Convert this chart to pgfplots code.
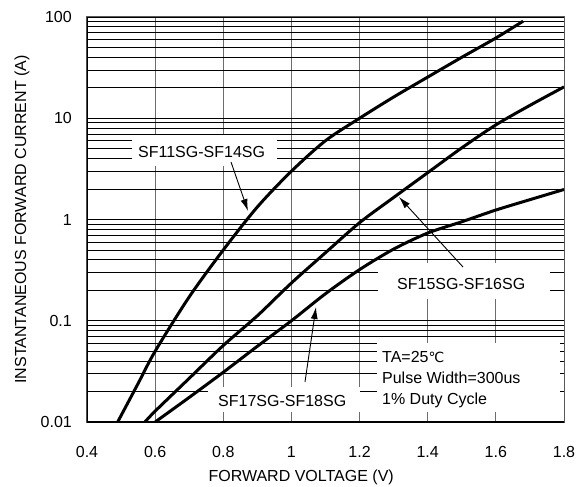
\documentclass[border=0pt]{standalone}
\usepackage{fontspec}
\setmainfont{Liberation Sans}
\newfontfamily\dejavu{DejaVu Sans}
\usepackage{pgfplots}
\pgfplotsset{compat=1.18}
\usetikzlibrary{arrows.meta}

% SF11SG-SF14SG
\pgfplotstableread{
x y
0.49 0.01
0.55 0.024
0.60 0.050
0.70 0.172
0.80 0.50
0.90 1.33
1.00 3.0
1.10 6.0
1.20 10.0
1.30 16.2
1.40 25.5
1.50 40
1.60 62
1.68 91
}\sfA

% SF15SG-SF16SG
\pgfplotstableread{
x y
0.57 0.01
0.60 0.0128
0.70 0.027
0.80 0.057
0.90 0.112
1.00 0.236
1.10 0.47
1.20 0.93
1.30 1.65
1.40 2.9
1.50 5.1
1.60 8.6
1.70 13.4
1.80 20.4
}\sfB

% SF17SG-SF18SG
\pgfplotstableread{
x y
0.60 0.01
0.70 0.0175
0.80 0.031
0.90 0.056
1.00 0.100
1.10 0.185
1.20 0.32
1.30 0.51
1.40 0.735
1.50 0.95
1.60 1.24
1.70 1.57
1.80 1.98
}\sfC

\begin{document}
\begin{tikzpicture}
\begin{axis}[
    scale only axis,
    width=477pt, height=405pt,
    ymode=log,
    xmin=0.4, xmax=1.8,
    ymin=0.01, ymax=100,
    xtick={0.4,0.6,...,1.8},
    xticklabels={0.4,0.6,0.8,1,1.2,1.4,1.6,1.8},
    ytick={0.01,0.1,1,10,100},
    yticklabels={0.01,0.1,1,10,100},
    font=\fontsize{16}{19}\selectfont,
    xlabel={FORWARD VOLTAGE (V)},
    ylabel={INSTANTANEOUS FORWARD CURRENT (A)},
    xlabel style={at={(axis description cs:0.449,-0.1457)}, anchor=base},
    ylabel style={at={(axis description cs:-0.1363,0.5)}, anchor=center},
    grid=both,
    major x grid style={line width=0.9pt, gray!85!black},
    major y grid style={line width=0.8pt, black},
    minor y grid style={line width=0.8pt, black},
    axis line style={line width=1pt, gray!70!black},
    major tick length=0pt,
    minor tick length=0pt,
    xticklabel style={anchor=base, yshift=-35pt},
    yticklabel style={anchor=east, inner sep=0pt, xshift=-15pt},
]
\addplot[black, line width=3pt, smooth, tension=0.5] table {\sfA};
\addplot[black, line width=3pt, smooth, tension=0.5] table {\sfB};
\addplot[black, line width=3pt, smooth, tension=0.5] table {\sfC};

\draw[black, line width=1.2pt] (rel axis cs:0,1) -- (rel axis cs:0,0) -- (rel axis cs:1,0);

% white label boxes
\fill[white] (axis description cs:0.0943,0.6321) rectangle (axis description cs:0.3983,0.7086);
\fill[white] (axis description cs:0.6101,0.3037) rectangle (axis description cs:0.9706,0.3926);
\fill[white] (axis description cs:0.2537,0.0247) rectangle (axis description cs:0.5723,0.0864);
\fill[white] (axis description cs:0.6080,0.0247) rectangle (axis description cs:0.9916,0.1951);

\node[anchor=base west, inner sep=0pt] at (axis description cs:0.1069,0.6543) {SF11SG-SF14SG};
\node[anchor=base west, inner sep=0pt] at (axis description cs:0.6499,0.3284) {SF15SG-SF16SG};
\node[anchor=base west, inner sep=0pt] at (axis description cs:0.2746,0.0395) {SF17SG-SF18SG};
\node[anchor=base west, inner sep=0pt] at (axis description cs:0.6184,0.1457) {TA=25{\dejavu\fontsize{14}{19}\selectfont ℃}};
\node[anchor=base west, inner sep=0pt] at (axis description cs:0.6184,0.0963) {Pulse Width=300us};
\node[anchor=base west, inner sep=0pt] at (axis description cs:0.6184,0.0420) {1\% Duty Cycle};

\draw[line width=0.9pt, -{Latex[length=12pt,width=7pt]}] (axis description cs:0.3019,0.6420) -- (axis description cs:0.3375,0.5210);
\draw[line width=0.9pt, -{Latex[length=12pt,width=7pt]}] (axis description cs:0.7883,0.3827) -- (axis description cs:0.6541,0.5556);
\draw[line width=0.9pt, -{Latex[length=12pt,width=7pt]}] (axis description cs:0.4570,0.0988) -- (axis description cs:0.4801,0.2840);

\coordinate (sw) at (rel axis cs:0,0);
\coordinate (ne) at (rel axis cs:1,1);
\end{axis}
\pgfresetboundingbox
\path[use as bounding box] ([shift={(-87pt,-64pt)}]sw) rectangle ([shift={(23pt,17pt)}]ne);
\end{tikzpicture}
\end{document}
